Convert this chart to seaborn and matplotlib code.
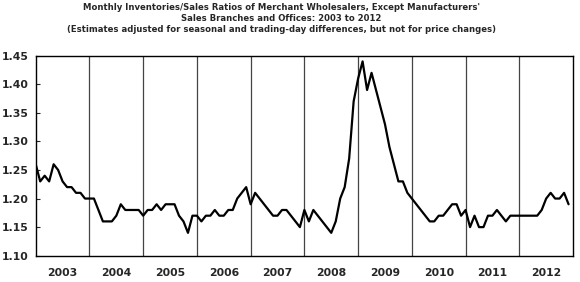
import numpy as np
import pandas as pd
import matplotlib
matplotlib.use("Agg")
import matplotlib.pyplot as plt
import seaborn as sns

years = [2003, 2004, 2005, 2006, 2007, 2008, 2009, 2010, 2011, 2012]
y2003 = [1.26, 1.23, 1.24, 1.23, 1.26, 1.25, 1.23, 1.22, 1.22, 1.21, 1.21, 1.20]
y2004 = [1.20, 1.20, 1.18, 1.16, 1.16, 1.16, 1.17, 1.19, 1.18, 1.18, 1.18, 1.18]
y2005 = [1.17, 1.18, 1.18, 1.19, 1.18, 1.19, 1.19, 1.19, 1.17, 1.16, 1.14, 1.17]
y2006 = [1.17, 1.16, 1.17, 1.17, 1.18, 1.17, 1.17, 1.18, 1.18, 1.20, 1.21, 1.22]
y2007 = [1.19, 1.21, 1.20, 1.19, 1.18, 1.17, 1.17, 1.18, 1.18, 1.17, 1.16, 1.15]
y2008 = [1.18, 1.16, 1.18, 1.17, 1.16, 1.15, 1.14, 1.16, 1.20, 1.22, 1.27, 1.37]
y2009 = [1.41, 1.44, 1.39, 1.42, 1.39, 1.36, 1.33, 1.29, 1.26, 1.23, 1.23, 1.21]
y2010 = [1.20, 1.19, 1.18, 1.17, 1.16, 1.16, 1.17, 1.17, 1.18, 1.19, 1.19, 1.17]
y2011 = [1.18, 1.15, 1.17, 1.15, 1.15, 1.17, 1.17, 1.18, 1.17, 1.16, 1.17, 1.17]
y2012 = [1.17, 1.17, 1.17, 1.17, 1.17, 1.18, 1.20, 1.21, 1.20, 1.20, 1.21, 1.19]
yticks = [1.10, 1.15, 1.20, 1.25, 1.30, 1.35, 1.40, 1.45]

ratios = y2003 + y2004 + y2005 + y2006 + y2007 + y2008 + y2009 + y2010 + y2011 + y2012
df = pd.DataFrame({"month": np.arange(len(ratios)), "ratio": ratios})

sns.set_theme(style="white")
plt.rcParams['font.family'] = ['DejaVu Sans']

fig = plt.figure(figsize=(5.8, 2.82), dpi=100)
ax = fig.add_axes([0.0616, 0.0933, 0.9264, 0.7092])

sns.lineplot(data=df, x="month", y="ratio", ax=ax, color="black", linewidth=1.6)

for k in range(1, len(years)):
    ax.axvline(12 * k, color="#444444", linewidth=0.9, zorder=1)

ax.set_xlim(0, 12 * len(years))
ax.set_ylim(1.10, 1.45)
ax.set_yticks(yticks)
ax.set_yticklabels([f"{v:.2f}" for v in yticks], fontweight="bold", fontsize=7.8)
ax.set_xticks([12 * k + 6 for k in range(len(years))])
ax.set_xticklabels([str(y) for y in years], fontweight="bold", fontsize=7.8)
ax.tick_params(axis="x", length=0, pad=9)
ax.tick_params(axis="y", direction="in", length=3, width=0.8, pad=5, left=True)
ax.set_xlabel("")
ax.set_ylabel("")
for s in ax.spines.values():
    s.set_color("black")
    s.set_linewidth(1.0)

fig.text(0.485, 0.99,
         "Monthly Inventories/Sales Ratios of Merchant Wholesalers, Except Manufacturers'\n"
         "Sales Branches and Offices: 2003 to 2012\n"
         "(Estimates adjusted for seasonal and trading-day differences, but not for price changes)",
         ha="center", va="top", fontsize=6.1, fontweight="bold", linespacing=1.3)

fig.savefig("out.png", dpi=100)
